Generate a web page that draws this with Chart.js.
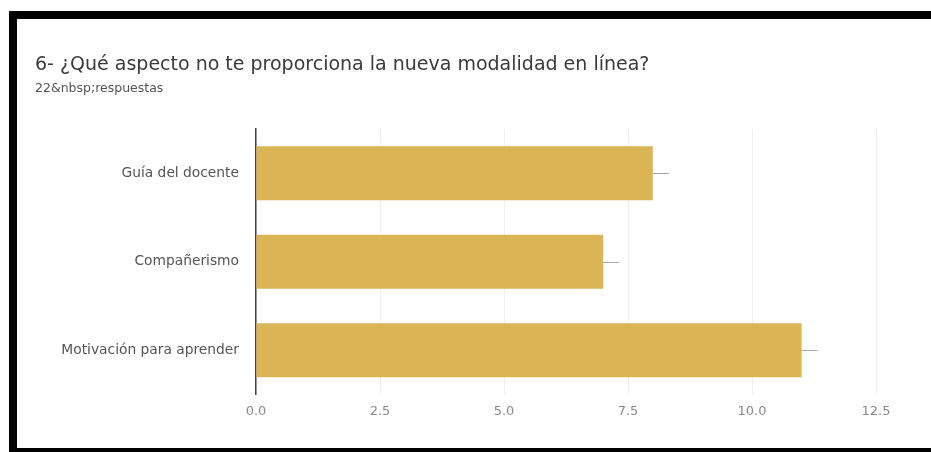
<!DOCTYPE html>
<html>
<head>
<meta charset="utf-8">
<script src="https://cdn.jsdelivr.net/npm/chart.js@4"></script>
<style>
  html, body { margin: 0; padding: 0; background: #fff; }
  body { width: 931px; height: 452px; position: relative; overflow: hidden; }
  .frame {
    position: absolute; left: 9px; top: 11px; width: 940px; height: 429px;
    border-top: 8px solid #000; border-left: 8px solid #000; border-bottom: 8px solid #000;
  }
  #wrap { position: absolute; left: 0; top: 0; width: 931px; height: 452px; }
</style>
</head>
<body>
<div class="frame"></div>
<div id="wrap"><canvas id="barChart"></canvas></div>
<script>
const categories = ['Guía del docente', 'Compañerismo', 'Motivación para aprender'];
const responses = [8, 7, 11];
const xTicks = [0, 2.5, 5, 7.5, 10, 12.5];

// little grey stub at the end of each bar, like in the forms summary
const stubPlugin = {
    id: 'stubs',
    afterDatasetsDraw(chart) {
        const ctx = chart.ctx;
        ctx.save();
        ctx.strokeStyle = '#a8a8a8';
        ctx.lineWidth = 1;
        chart.getDatasetMeta(0).data.forEach(bar => {
            ctx.beginPath();
            ctx.moveTo(bar.x, Math.round(bar.y) + 0.5);
            ctx.lineTo(bar.x + 16, Math.round(bar.y) + 0.5);
            ctx.stroke();
        });
        ctx.restore();
    }
};

new Chart(document.getElementById('barChart'), {
    type: 'bar',
    data: {
        labels: categories,
        datasets: [{
            data: responses,
            backgroundColor: '#dbb455',
            borderWidth: 0,
            barPercentage: 0.61,
            categoryPercentage: 1
        }]
    },
    options: {
        indexAxis: 'y',
        responsive: true,
        maintainAspectRatio: false,
        animation: false,
        layout: { padding: { left: 35, right: 55, top: 0, bottom: 24 } },
        plugins: {
            legend: { display: false },
            tooltip: { enabled: false },
            title: {
                display: true,
                text: '6- ¿Qué aspecto no te proporciona la nueva modalidad en línea?',
                align: 'start',
                color: '#3a3a3a',
                font: { family: 'DejaVu Sans', size: 19, weight: 'normal' },
                padding: { top: 54, bottom: 0 }
            },
            subtitle: {
                display: true,
                text: '22&nbsp;respuestas',
                align: 'start',
                color: '#555',
                font: { family: 'DejaVu Sans', size: 12.5 },
                padding: { top: 4, bottom: 33.2 }
            }
        },
        scales: {
            x: {
                min: 0,
                max: 12.5,
                afterBuildTicks(scale) { scale.ticks = xTicks.map(v => ({ value: v })); },
                grid: { color: '#efefef', drawTicks: false },
                border: { display: false },
                ticks: {
                    padding: 9,
                    color: '#8a8a8a',
                    font: { family: 'DejaVu Sans', size: 13 },
                    callback: v => v.toFixed(1)
                }
            },
            y: {
                afterFit(scale) { scale.width = 221; },
                grid: { display: false, drawTicks: false },
                border: { display: true, color: '#444', width: 1.5 },
                ticks: {
                    padding: 17,
                    color: '#555',
                    font: { family: 'DejaVu Sans', size: 13.8 }
                }
            }
        }
    },
    plugins: [stubPlugin]
});
</script>
</body>
</html>
